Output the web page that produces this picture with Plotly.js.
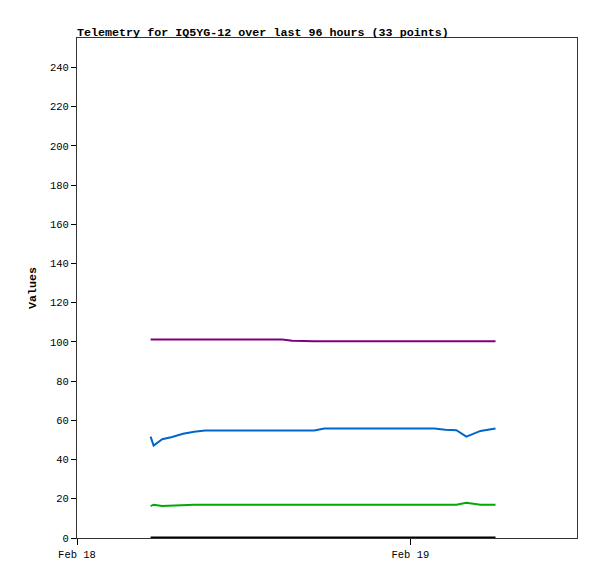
<!DOCTYPE html>
<html><head><meta charset="utf-8">
<script src="https://cdn.plot.ly/plotly-3.0.1.min.js"></script>
<style>body{margin:0;padding:0;background:#fff}</style>
</head><body><div id="chart" style="width:597px;height:579px"></div>
<script>
const times = [
 "2024-02-18 05:18","2024-02-18 05:31","2024-02-18 06:08","2024-02-18 06:51","2024-02-18 07:38",
 "2024-02-18 08:26","2024-02-18 09:14","2024-02-18 10:01","2024-02-18 10:49","2024-02-18 11:36",
 "2024-02-18 12:24","2024-02-18 13:11","2024-02-18 13:59","2024-02-18 14:46","2024-02-18 15:30",
 "2024-02-18 16:17","2024-02-18 17:05","2024-02-18 17:48","2024-02-18 18:36","2024-02-18 19:23",
 "2024-02-18 20:11","2024-02-18 20:58","2024-02-18 21:46","2024-02-18 22:33","2024-02-18 23:21",
 "2024-02-19 00:09","2024-02-19 00:56","2024-02-19 01:44","2024-02-19 02:31","2024-02-19 03:19",
 "2024-02-19 04:02","2024-02-19 05:03","2024-02-19 06:08"
];
const purpleVals = [101.2,101.2,101.2,101.2,101.2,101.2,101.2,101.2,101.2,101.2,101.2,101.2,101.2,101.2,100.6,
 100.3,100.3,100.3,100.3,100.3,100.3,100.3,100.3,100.3,100.3,100.3,100.3,100.3,100.3,100.3,100.3,100.3,100.3];
const blueVals = [51.7,47.1,50.4,51.5,53.2,54.2,54.8,54.8,54.8,54.8,54.8,54.8,54.8,54.8,54.8,
 54.8,54.8,55.8,55.8,55.8,55.8,55.8,55.8,55.8,55.8,55.8,55.8,55.8,55.2,55.0,51.7,54.6,55.8];
const greenVals = [16.3,17.0,16.3,16.5,17.0,17.0,17.0,17.0,17.0,17.0,17.0,17.0,17.0,17.0,17.0,
 17.0,17.0,17.0,17.0,17.0,17.0,17.0,17.0,17.0,17.0,17.0,17.0,17.0,17.0,17.0,18.0,17.0,17.0];
const blackVals = [0,0,0,0,0,0,0,0,0,0,0,0,0,0,0,0,0,0,0,0,0,0,0,0,0,0,0,0,0,0,0,0,0];
const yTicks = [0,20,40,60,80,100,120,140,160,180,200,220,240];
const xRange = ["2024-02-18 00:00","2024-02-19 12:00"];
const yRange = [0,255];

const mono = "Liberation Mono, DejaVu Sans Mono, monospace";
function tr(y, color, w){
  return {x: times, y: y, type:'scatter', mode:'lines', line:{color:color, width:w}, showlegend:false, hoverinfo:'skip'};
}
const data = [
  tr(blackVals,'#000000',3),
  tr(greenVals,'#00aa00',2),
  tr(blueVals,'#0066cc',2),
  tr(purpleVals,'#7f007f',2)
];
const layout = {
  width:597, height:579,
  margin:{l:77, r:20, t:38, b:41, pad:0},
  paper_bgcolor:'#fff', plot_bgcolor:'#fff',
  title:{text:'<b>Telemetry for IQ5YG-12 over last 96 hours (33 points)</b>', x:0, xref:'paper', xanchor:'left',
    y:1, yref:'paper', yanchor:'bottom', pad:{b:2}, font:{family:mono, size:11.7, color:'#000'}},
  xaxis:{type:'date', range:xRange, showgrid:false, zeroline:false, showline:true, mirror:true,
    linecolor:'#333', linewidth:1, ticks:'outside', ticklen:6, tickcolor:'#000',
    tick0:'2024-02-18', dtick:86400000, tickformat:'%b %d',
    tickfont:{family:mono, size:10.5, color:'#000'}},
  yaxis:{range:yRange, tickvals:yTicks, showgrid:false, zeroline:false, showline:true, mirror:true,
    linecolor:'#333', linewidth:1, ticks:'outside', ticklen:5, tickcolor:'#000',
    tickfont:{family:mono, size:10.5, color:'#000'},
    title:{text:'<b>Values</b>', font:{family:mono, size:11.7, color:'#000'}, standoff:10}}
};
Plotly.newPlot('chart', data, layout, {staticPlot:true, displayModeBar:false});
</script></body></html>
